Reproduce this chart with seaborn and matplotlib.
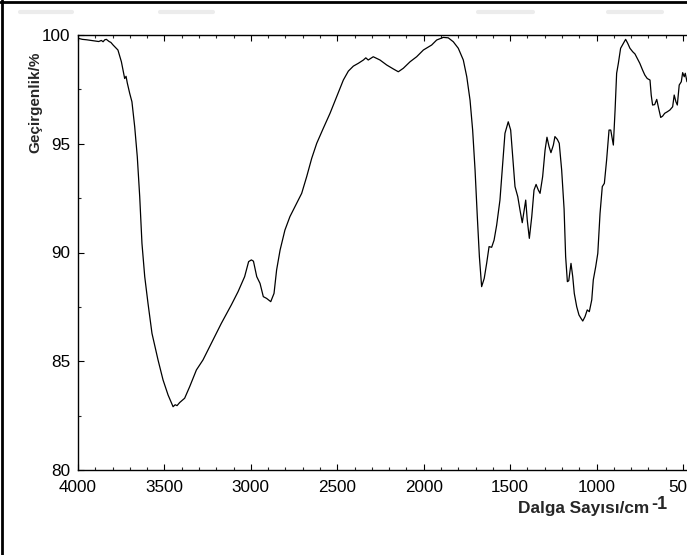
import matplotlib
matplotlib.use("Agg")
import matplotlib.pyplot as plt
from matplotlib.lines import Line2D
from matplotlib.ticker import MultipleLocator
import seaborn as sns
import pandas as pd

wavenumber = [4000, 3975, 3950, 3925, 3900, 3880, 3865, 3855, 3845, 3836, 3820, 3810, 3797, 3769,
              3749, 3730, 3722, 3715, 3701, 3688, 3672, 3657, 3643, 3630, 3614, 3595, 3572, 3537,
              3508, 3479, 3450, 3438, 3427, 3412, 3383, 3354, 3315, 3277, 3229, 3171, 3113, 3074,
              3036, 3013, 2997, 2985, 2966, 2947, 2928, 2909, 2885, 2866, 2851, 2831, 2803, 2774,
              2745, 2706, 2677, 2648, 2619, 2581, 2542, 2503, 2465, 2436, 2407, 2378, 2349, 2335,
              2321, 2292, 2253, 2214, 2176, 2147, 2118, 2079, 2041, 2002, 1954, 1925, 1887, 1858,
              1829, 1800, 1771, 1751, 1732, 1717, 1703, 1690, 1678, 1665, 1650, 1636, 1622, 1607,
              1593, 1578, 1559, 1543, 1530, 1511, 1497, 1485, 1472, 1456, 1443, 1430, 1420, 1410,
              1401, 1389, 1375, 1362, 1350, 1337, 1327, 1312, 1298, 1287, 1275, 1264, 1250, 1241,
              1227, 1216, 1202, 1188, 1179, 1169, 1161, 1148, 1138, 1129, 1115, 1102, 1090, 1080,
              1067, 1054, 1042, 1028, 1019, 1005, 993, 980, 967, 955, 942, 928, 918, 903, 893, 884,
              874, 861, 845, 832, 820, 807, 791, 778, 765, 750, 734, 721, 707, 691, 684, 676, 664,
              652, 641, 629, 618, 606, 591, 576, 560, 551, 541, 533, 522, 510, 502, 493, 487, 477]

transmittance = [99.85, 99.80, 99.78, 99.75, 99.72, 99.70, 99.75, 99.69, 99.78, 99.80, 99.70, 99.66,
                 99.54, 99.31, 98.77, 98.00, 98.10, 97.80, 97.32, 96.93, 95.78, 94.40, 92.57, 90.42,
                 88.89, 87.66, 86.28, 85.06, 84.14, 83.45, 82.91, 83.00, 82.96, 83.10, 83.30, 83.83,
                 84.60, 85.06, 85.82, 86.74, 87.59, 88.20, 88.89, 89.58, 89.66, 89.60, 88.89, 88.58,
                 87.97, 87.89, 87.74, 88.12, 89.20, 90.11, 91.03, 91.65, 92.11, 92.72, 93.49, 94.33,
                 95.02, 95.71, 96.40, 97.17, 97.93, 98.34, 98.57, 98.70, 98.85, 98.95, 98.85, 99.00,
                 98.85, 98.62, 98.44, 98.31, 98.47, 98.77, 99.00, 99.31, 99.54, 99.77, 99.89, 99.87,
                 99.69, 99.39, 98.85, 98.08, 97.00, 95.63, 93.79, 91.65, 89.81, 88.43, 88.81, 89.50,
                 90.27, 90.24, 90.57, 91.26, 92.41, 94.10, 95.48, 96.01, 95.63, 94.40, 93.03, 92.57,
                 91.95, 91.37, 91.88, 92.41, 91.49, 90.65, 91.65, 92.87, 93.13, 92.87, 92.72, 93.49,
                 94.71, 95.30, 94.87, 94.59, 94.94, 95.33, 95.20, 95.02, 93.79, 92.00, 89.81, 88.66,
                 88.70, 89.50, 88.89, 88.12, 87.51, 87.13, 86.97, 86.85, 87.05, 87.36, 87.28, 87.82,
                 88.74, 89.35, 89.96, 91.80, 93.03, 93.18, 94.25, 95.63, 95.63, 94.94, 96.55, 98.24,
                 98.70, 99.39, 99.62, 99.80, 99.62, 99.39, 99.23, 99.13, 98.93, 98.70, 98.39, 98.16,
                 98.00, 97.93, 97.24, 96.78, 96.80, 97.04, 96.63, 96.21, 96.27, 96.40, 96.47, 96.55,
                 96.70, 97.24, 96.93, 96.78, 97.70, 97.85, 98.27, 98.08, 98.24, 97.85]

x_ticks = [4000, 3500, 3000, 2500, 2000, 1500, 1000, 500]
y_ticks = [80, 85, 90, 95, 100]
x_label = "Dalga Sayısı/cm"
x_label_sup = "-1"
y_label = "Geçirgenlik/%"

sns.set_style("ticks")
plt.rcParams['font.family'] = ['Liberation Sans', 'DejaVu Sans']

df = pd.DataFrame({"wn": wavenumber, "T": transmittance})

fig = plt.figure(figsize=(6.87, 5.55), dpi=100)
ax = fig.add_axes([78 / 687, 85 / 555, 622.3 / 687, 435 / 555])
sns.lineplot(data=df, x="wn", y="T", ax=ax, sort=False, estimator=None,
             color="black", linewidth=0.9)

ax.set_xlim(4000, 400)
ax.set_ylim(80, 100)
ax.set_xticks(x_ticks)
ax.set_xticklabels([str(t) for t in x_ticks])
ax.set_yticks(y_ticks)
ax.set_yticklabels([str(t) for t in y_ticks])
ax.xaxis.set_minor_locator(MultipleLocator(100))
ax.yaxis.set_minor_locator(MultipleLocator(2.5))
ax.tick_params(axis="both", which="major", direction="in", length=4.5, width=0.8,
               top=True, right=True, labelsize=12.3, color="black", labelcolor="black")
ax.tick_params(axis="both", which="minor", direction="in", length=2.3, width=0.8,
               top=True, right=True)
ax.tick_params(axis="x", which="major", pad=7.5)
ax.tick_params(axis="y", which="major", pad=5.5)
ax.set_xlabel("")
ax.set_ylabel("")
for s in ax.spines.values():
    s.set_color("black")
    s.set_linewidth(1.0)
ax.set_facecolor("white")

# axis titles
fig.text(518 / 687, 1 - 513 / 555, x_label, fontsize=12.4, fontweight="bold",
         ha="left", va="baseline")
fig.text(651 / 687, 1 - 509 / 555, x_label_sup, fontsize=13, fontweight="bold",
         ha="left", va="baseline")
fig.text(35 / 687, 1 - 102 / 555, y_label, fontsize=11, fontweight="bold",
         rotation=90, ha="center", va="center")

# figure frame (left and top edges visible)
fig.add_artist(Line2D([1.5 / 687, 1.5 / 687], [0, 1], transform=fig.transFigure,
                      color="black", linewidth=2))
fig.add_artist(Line2D([0, 1], [1 - 1.5 / 555, 1 - 1.5 / 555], transform=fig.transFigure,
                      color="black", linewidth=2))

# faint grey smudges along the top
for x0, x1 in [(20, 72), (160, 213), (478, 533), (608, 662)]:
    fig.add_artist(Line2D([x0 / 687, x1 / 687], [1 - 12 / 555, 1 - 12 / 555],
                          transform=fig.transFigure, color="#ececec", linewidth=3,
                          solid_capstyle="round"))

fig.savefig("out.png", dpi=100)
